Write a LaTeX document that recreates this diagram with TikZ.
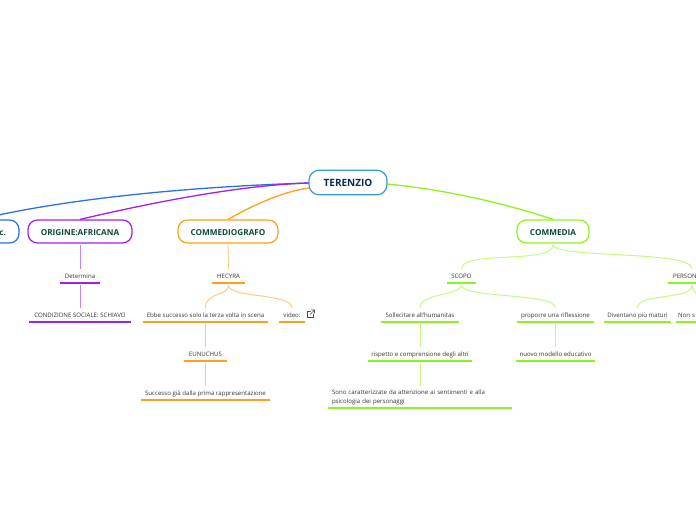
\documentclass[tikz,border=0pt]{standalone}
\usepackage{fontspec}
\setmainfont{Open Sans}
\definecolor{cblue}{HTML}{2B6FF0}
\definecolor{cpurple}{HTML}{A01FF0}
\definecolor{corange}{HTML}{FF9F1C}
\definecolor{cgreen}{HTML}{8CF51E}
\definecolor{croot}{HTML}{3A9AD9}
\definecolor{cteal}{HTML}{0D4A3C}
\definecolor{cnavy}{HTML}{0A2A55}
\tikzset{
  rootbox/.style={draw=croot,line width=1.2pt,rounded corners=10pt,fill=white,text=cnavy,font=\fontsize{10}{12}\selectfont\bfseries,inner sep=0pt,minimum height=24.5pt,text height=9pt,text depth=2pt},
  mainbox/.style={draw=#1,line width=1.2pt,rounded corners=9.5pt,fill=white,text=cteal,font=\fontsize{8.2}{10}\selectfont\bfseries,inner sep=0pt,minimum height=23pt,text height=8.5pt,text depth=1.5pt},
  textleaf/.style={inner sep=0pt,minimum height=14pt,text=black!80,font=\fontsize{6.1}{9}\selectfont},
  leaf/.style={textleaf,text height=6pt,text depth=1pt},
  rule/.style={draw=#1,line width=1.5pt},
  link/.style={draw=#1!55,line width=1pt},
  branch/.style={draw=#1,line width=1.3pt},
}
\begin{document}
\begin{tikzpicture}[x=1pt,y=-1pt]
\useasboundingbox (0,0) rectangle (696,520);
\clip (0,0) rectangle (696,520);
% main branches are painted under the boxes
\coordinate (rw) at (309,183);
\coordinate (rw2) at (309,188);
\coordinate (re) at (387,184);
% main nodes
\node[mainbox=cblue,minimum width=80pt,text width=54pt,align=right,inner xsep=13pt] (ctx) at (-21,231.5) {c.};
\node[mainbox=cpurple,minimum width=104pt] (orig) at (80,231.5) {ORIGINE:AFRICANA};
\node[mainbox=corange,minimum width=100pt] (comm) at (228,231.5) {COMMEDIOGRAFO};
\node[mainbox=cgreen,minimum width=72pt] (cmd) at (553,231.5) {COMMEDIA};
% purple branch
\node[leaf,minimum width=40pt] (det) at (80,276) {Determina};
\node[leaf,minimum width=102pt] (cond) at (80,315) {CONDIZIONE SOCIALE: SCHIAVO};
% orange branch
\node[leaf,minimum width=33pt] (hec) at (228.5,276) {HECYRA};
\node[leaf,minimum width=125pt] (ebbe) at (205.5,315) {Ebbe successo solo la terza volta in scena};
\node[leaf,minimum width=26pt] (vid) at (292,315) {video:};
\node[leaf,minimum width=43pt] (eun) at (205.5,354) {EUNUCHUS};
\node[leaf,minimum width=129pt] (succ) at (205.5,393) {Successo già dalla prima rappresentazione};
% green branch
\node[leaf,minimum width=29pt] (scopo) at (461.5,276) {SCOPO};
\node[leaf,minimum width=48pt] (pers) at (692,276) {PERSONAGGI};
\node[leaf,minimum width=78pt] (soll) at (420,315) {Sollecitare all'humanitas};
\node[leaf,minimum width=76pt] (prop) at (555.5,315) {proporre una riflessione};
\node[leaf,minimum width=67pt] (div) at (637.5,315) {Diventano più maturi};
\node[leaf,minimum width=40pt,text width=36pt,align=left] (nons) at (696,315) {Non s};
\node[leaf,minimum width=104pt] (risp) at (420,354) {rispetto e comprensione degli altri};
\node[leaf,minimum width=79pt] (nuovo) at (555.5,354) {nuovo modello educativo};
\node[textleaf,minimum width=184pt,minimum height=22pt,text width=176pt,align=left] (sono) at (420,397) {Sono caratterizzate da attenzione ai sentimenti e alla\\psicologia dei personaggi};
% underlines
\foreach \n/\colr in {det/cpurple,cond/cpurple,hec/corange,ebbe/corange,vid/corange,eun/corange,succ/corange,scopo/cgreen,pers/cgreen,soll/cgreen,prop/cgreen,div/cgreen,nons/cgreen,risp/cgreen,nuovo/cgreen,sono/cgreen}
  \draw[rule=\colr] (\n.south west) -- (\n.south east);
% main branches
\draw[branch=cblue] (rw) .. controls (180,187) and (60,200) .. (ctx.north);
\draw[branch=cpurple] (rw) .. controls (240,185) and (150,203) .. (orig.north);
\draw[branch=corange] (rw2) .. controls (280,192) and (250,207) .. (comm.north);
\draw[branch=cgreen] (re) .. controls (450,190) and (510,205) .. (cmd.north);
\node[rootbox,minimum width=78pt] (root) at (348,182.5) {TERENZIO};
% links
\draw[link=cpurple] ([yshift=-1pt]orig.south) -- (det.north);
\draw[link=cpurple] ([yshift=-2pt]det.south) -- (cond.north);
\draw[link=corange] ([yshift=-1pt]comm.south) -- (hec.north);
\draw[link=corange] ([yshift=-2pt]hec.south) .. controls +(0,11) and (205.5,292) .. (ebbe.north);
\draw[link=corange] ([yshift=-2pt]hec.south) .. controls +(0,13) and (292,293) .. (vid.north);
\draw[link=corange] ([yshift=-2pt]ebbe.south) -- (eun.north);
\draw[link=corange] ([yshift=-2pt]eun.south) -- (succ.north);
\draw[link=cgreen] ([yshift=-1pt]cmd.south) .. controls +(0,20) and (461.5,250) .. (scopo.north);
\draw[link=cgreen] ([yshift=-1pt]cmd.south) .. controls +(0,14) and (692,250) .. (pers.north);
\draw[link=cgreen] ([yshift=-2pt]scopo.south) .. controls +(0,10) and (420,293) .. (soll.north);
\draw[link=cgreen] ([yshift=-2pt]scopo.south) .. controls +(0,13) and (555.5,293) .. (prop.north);
\draw[link=cgreen] ([yshift=-2pt]pers.south) .. controls +(0,15) and (637.5,293) .. (div.north);
\draw[link=cgreen] ([yshift=-2pt]pers.south) .. controls +(0,12) and (712,295) .. (nons.north);
\draw[link=cgreen] ([yshift=-2pt]soll.south) -- (risp.north);
\draw[link=cgreen] ([yshift=-2pt]prop.south) -- (nuovo.north);
\draw[link=cgreen] ([yshift=-2pt]risp.south) -- (sono.north);
% external-link icon
\draw[black!70,line width=.6pt,line cap=round] (310.5,311) -- (307,311) -- (307,317.5) -- (313.5,317.5) -- (313.5,314);
\draw[black!70,line width=.6pt,line cap=round] (310,314.5) -- (314.5,310) (311.5,310) -- (314.5,310) -- (314.5,313);
\end{tikzpicture}
\end{document}
